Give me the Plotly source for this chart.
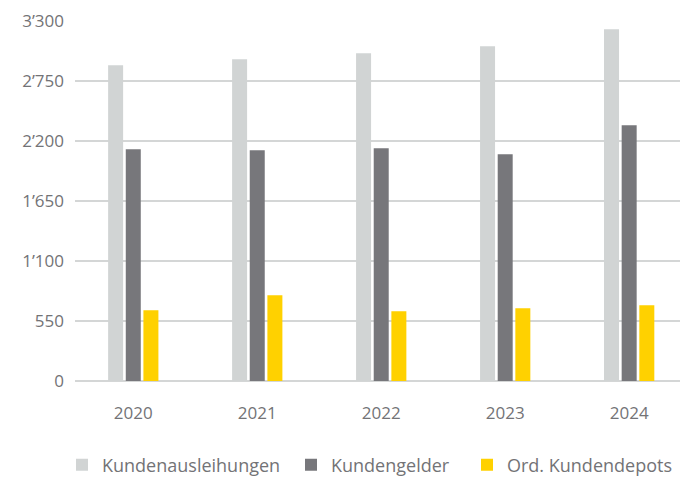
import plotly.graph_objects as go

years = ["2020", "2021", "2022", "2023", "2024"]
kundenausleihungen = [2894, 2949, 3004, 3068, 3224]
kundengelder = [2124, 2115, 2133, 2078, 2344]
ord_kundendepots = [648, 786, 639, 666, 694]

tick_vals = [0, 550, 1100, 1650, 2200, 2750, 3300]
tick_text = ["0", "550", "1’100", "1’650", "2’200", "2’750", "3’300"]

series = [
    ("Kundenausleihungen", kundenausleihungen, "#d1d4d4", "legend", 62),
    ("Kundengelder", kundengelder, "#77777b", "legend2", 291),
    ("Ord. Kundendepots", ord_kundendepots, "#ffd100", "legend3", 467),
]

font_family = "Open Sans, Lato, sans-serif"
text_color = "#737376"
W, H = 689, 477

fig = go.Figure()
for name, vals, color, lg, _ in series:
    fig.add_trace(go.Bar(x=years, y=vals, name=name, marker_color=color,
                         marker_line_width=0, hoverinfo="skip", legend=lg))

legend_common = dict(orientation="h", xref="container", yref="container",
                     xanchor="left", yanchor="middle", y=1 - 465 / H,
                     font=dict(size=18, color=text_color),
                     bgcolor="rgba(0,0,0,0)")
layout_legends = {}
for name, vals, color, lg, xpx in series:
    layout_legends[lg] = dict(legend_common, x=xpx / W)

fig.update_layout(
    width=W, height=H,
    margin=dict(l=75, r=9, t=21, b=96, autoexpand=False),
    plot_bgcolor="white", paper_bgcolor="white",
    barmode="group", bargap=0.573, bargroupgap=0.15,
    font=dict(family=font_family, color=text_color, size=17),
    showlegend=True,
    **layout_legends,
)
fig.update_xaxes(type="category", range=[-0.47, 4.41], showgrid=False,
                 showline=False, ticks="", automargin=False,
                 ticklabelstandoff=20,
                 tickfont=dict(size=17, color=text_color))
fig.update_yaxes(range=[0, 3300], tickvals=tick_vals, ticktext=tick_text,
                 showgrid=True, gridcolor="#d4d6d6", gridwidth=2,
                 zeroline=True, zerolinecolor="#d4d6d6", zerolinewidth=2,
                 showline=False, ticks="", ticklabelstandoff=10, automargin=False,
                 tickfont=dict(size=17, color=text_color))

fig.write_html("out.html",
               config={"displayModeBar": False},
               post_script="document.body.style.margin='0';document.body.style.overflow='hidden';")
